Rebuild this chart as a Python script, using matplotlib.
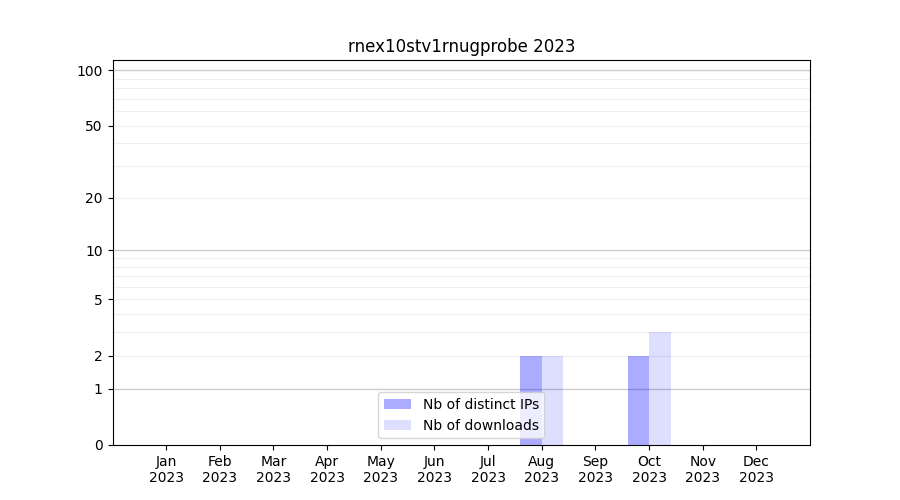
import numpy as np
import matplotlib
matplotlib.use("Agg")
import matplotlib.pyplot as plt

months = ["Jan", "Feb", "Mar", "Apr", "May", "Jun", "Jul", "Aug", "Sep", "Oct", "Nov", "Dec"]
year = "2023"
distinct_ips = [0, 0, 0, 0, 0, 0, 0, 2, 0, 2, 0, 0]
downloads = [0, 0, 0, 0, 0, 0, 0, 2, 0, 3, 0, 0]
ytick_values = [0, 1, 2, 5, 10, 20, 50, 100]


def fwd(y):
    return np.log10(1 + np.maximum(y, 0))


def inv(y):
    return 10 ** y - 1


fig, ax = plt.subplots(figsize=(9, 5), dpi=100)
ax.set_yscale("function", functions=(fwd, inv))

x = np.arange(len(months))
width = 0.4
ax.bar(x - width / 2, distinct_ips, width, color="blue", alpha=0.33, label="Nb of distinct IPs")
ax.bar(x + width / 2, downloads, width, color="blue", alpha=0.13, label="Nb of downloads")

# grid lines: decades darker, others lighter
for d in [1, 10, 100]:
    ax.axhline(d, color="#cccccc", linewidth=1, zorder=0.5)
for d in [1, 10]:
    for k in range(2, 10):
        ax.axhline(d * k, color="#eeeeee", linewidth=0.8, zorder=0.5)

ax.set_yticks(ytick_values)
ax.set_yticklabels([str(v) for v in ytick_values])
ax.yaxis.set_minor_locator(matplotlib.ticker.NullLocator())
ax.set_ylim(0, 113.5)

ax.set_xticks(x)
ax.set_xticklabels([m + "\n" + year for m in months])
ax.set_xlim(-1, 12)

ax.set_title("rnex10stv1rnugprobe " + year)
ax.legend(loc="lower center")

fig.savefig("out.png")
